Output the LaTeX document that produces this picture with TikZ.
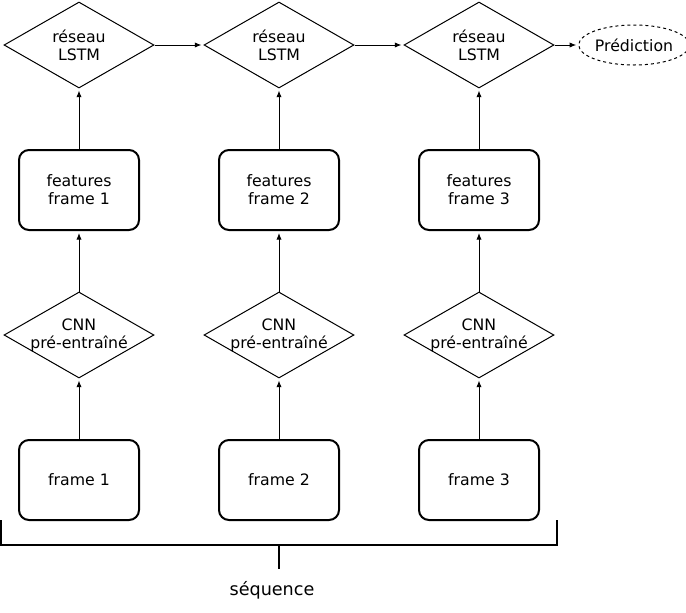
\documentclass[tikz,border=0pt]{standalone}
\usepackage{fontspec}
\setmainfont{DejaVu Sans}
\usetikzlibrary{shapes.geometric,arrows.meta}
\begin{document}
\begin{tikzpicture}[x=0.75pt,y=-0.75pt,
  font=\fontsize{11.8pt}{13.5pt}\selectfont,
  proc/.style={draw, diamond, line width=0.75pt, minimum width=112.5pt,
    minimum height=64.5pt, inner sep=0pt},
  txt/.style={align=center, inner sep=0pt},
  box/.style={draw, rectangle, rounded corners=7.5pt, line width=1.5pt,
    minimum width=90pt, minimum height=60pt, align=center},
  pred/.style={draw, ellipse, dashed, dash pattern=on 2.25pt off 2.25pt,
    line width=0.75pt, minimum width=75pt, minimum height=30pt, inner sep=0pt},
  arr/.style={-{Latex[length=5pt,width=4pt]}, line width=0.75pt, shorten >=1.5pt},
  brace/.style={line width=1.1pt}
]
\useasboundingbox (0,0) rectangle (686,612);

% three parallel columns: frame -> CNN -> features -> LSTM
\foreach \i/\x in {1/79,2/279,3/479} {
  \node[proc] (l\i) at (\x,45) {};
  \node[txt] (l\i t) at (l\i) {réseau\\LSTM};
  \node[box] (f\i) at (\x,190) {features\\frame \i};
  \node[proc] (c\i) at (\x,335) {};
  \node[txt] (c\i t) at (c\i) {CNN\\pré-entraîné};
  \node[box] (s\i) at (\x,480) {frame \i};
  \draw[arr] (s\i) -- (c\i);
  \draw[arr] (c\i) -- (f\i);
  \draw[arr] (f\i) -- (l\i);
}

\node[pred] (p) at (634,45) {Prédiction};

% recurrent chain between the LSTM steps
\draw[arr] (l1) -- (l2);
\draw[arr] (l2) -- (l3);
\draw[arr] (l3) -- (p);

% bracket grouping the input frames
\coordinate (bl) at (1,520);
\coordinate (blb) at (1,545);
\coordinate (brb) at (557,545);
\coordinate (br) at (557,520);
\coordinate (bm) at (279,545);
\coordinate (bt) at (279,569);
\draw[brace] (bl) -- (blb) -- (brb) -- (br);
\draw[brace] (bm) -- (bt);
\node[font=\fontsize{13.2pt}{15pt}\selectfont] (seq) at (272,590) {séquence};
\end{tikzpicture}
\end{document}
